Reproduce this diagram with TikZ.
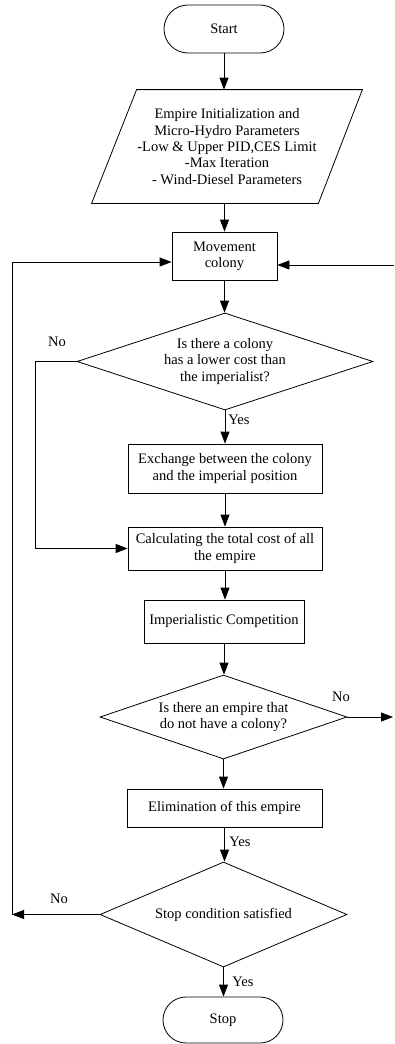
\documentclass[tikz,border=0pt]{standalone}
\usepackage{fontspec}
\setmainfont{Liberation Serif}
\usetikzlibrary{shapes.geometric,shapes.misc,arrows.meta}
\begin{document}
\begin{tikzpicture}[x=1pt,y=-1pt,
  every node/.style={font=\fontsize{14.5}{16.3}\selectfont, align=center, inner sep=1pt, draw, line width=0.8pt},
  term/.style={rounded rectangle, minimum width=122pt, minimum height=48pt},
  proc/.style={rectangle},
  dec/.style={diamond, inner sep=0pt},
  lbl/.style={draw=none},
  conn/.style={line width=0.8pt, -{Triangle[length=12pt,width=9pt]}},
  plain/.style={line width=0.8pt}
]
\useasboundingbox (0,0) rectangle (394,1044);
\node[term] (start) at (224,29) {Start};
\node[draw=none, minimum width=226pt, minimum height=113pt] (para) at (227,146.5) {Empire Initialization and\\Micro-Hydro Parameters\\-Low \& Upper PID,CES Limit\\-Max Iteration\\- Wind-Diesel Parameters};
\draw[plain] ([xshift=23pt]para.north west) -- ([xshift=22pt]para.north east) -- ([xshift=-22pt]para.south east) -- ([xshift=-22pt]para.south west) -- cycle;
\node[proc, minimum width=105pt, minimum height=48pt] (mov) at (224.5,256) {Movement\\colony};
\node[dec, aspect=3.05, minimum width=296pt, minimum height=97pt] (d1) at (225,361.5) {Is there a colony\\has a lower cost than\\the imperialist?};
\node[proc, minimum width=194pt, minimum height=49pt] (exch) at (225,468.5) {Exchange between the colony\\and the imperial position};
\node[proc, minimum width=194pt, minimum height=43pt] (calc) at (225,548.5) {Calculating the total cost of all\\the empire};
\node[proc, minimum width=160pt, minimum height=43pt] (imp) at (224,621.5) {Imperialistic Competition};
\node[dec, aspect=2.94, minimum width=247pt, minimum height=84pt] (d2) at (223.5,717) {Is there an empire that\\do not have a colony?};
\node[proc, minimum width=195pt, minimum height=38pt] (elim) at (224.5,808) {Elimination of this empire};
\node[dec, aspect=2.35, minimum width=247pt, minimum height=105pt] (d3) at (223.5,914.5) {Stop condition satisfied};
\node[term, minimum height=46pt] (stop) at (223,1020) {Stop};

\node[lbl] (no1) at (57,342) {No};
\node[lbl] (yes1) at (239,420) {Yes};
\node[lbl] (no2) at (341,697) {No};
\node[lbl] (yes2) at (240,842) {Yes};
\node[lbl] (no3) at (59,899) {No};
\node[lbl] (yes3) at (243,982) {Yes};

\coordinate (c1) at (35,548.5);
\coordinate (rout) at (393,717);
\coordinate (rin) at (394,265);
\coordinate (lb) at (12,914.5);
\coordinate (lt) at (12,262);

\draw[conn] (start.south) -- (start.south |- para.north);
\draw[conn] (mov.north |- para.south) -- (mov.north);
\draw[conn] (mov.south) -- (mov.south |- d1.north);
\draw[conn] (d1.south) -- (d1.south |- exch.north);
\draw[conn] (exch.south) -- (exch.south |- calc.north);
\draw[conn] (d1.west) -| (c1) -- (calc.west);
\draw[conn] (calc.south) -- (calc.south |- imp.north);
\draw[conn] (imp.south) -- (imp.south |- d2.north);
\draw[conn] (d2.east) -- (rout);
\draw[conn] (rin) -- (rin -| mov.east);
\draw[conn] (d2.south) -- (d2.south |- elim.north);
\draw[conn] (elim.south) -- (elim.south |- d3.north);
\draw[conn] (d3.south) -- (d3.south |- stop.north);
\draw[conn] (d3.west) -- (lb);
\draw[conn] (lb) -- (lt) -- (lt -| mov.west);
\end{tikzpicture}
\end{document}
